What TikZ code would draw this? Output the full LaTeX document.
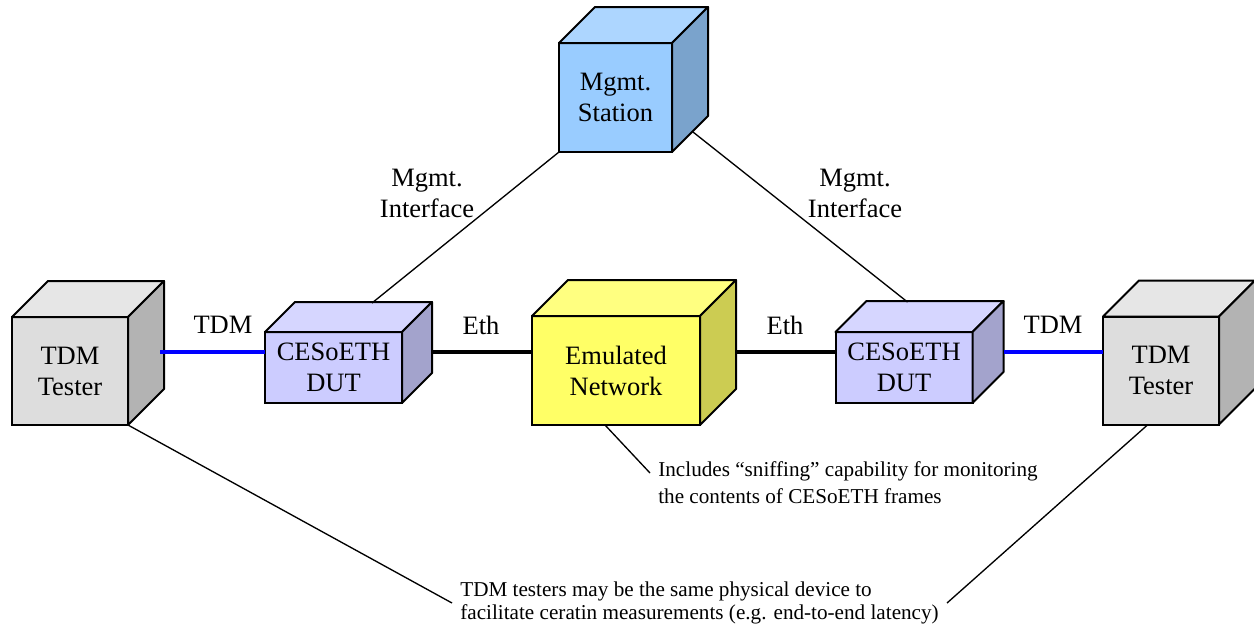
\documentclass[tikz,border=0pt]{standalone}
\usepackage{fontspec}
\setmainfont{Liberation Serif}
\usepackage{tikz}
\usetikzlibrary{calc}
\definecolor{testerfront}{HTML}{DDDDDD}
\definecolor{testertop}{HTML}{E6E6E6}
\definecolor{testerside}{HTML}{B3B3B3}
\definecolor{dutfront}{HTML}{CCCCFF}
\definecolor{duttop}{HTML}{D6D6FF}
\definecolor{dutside}{HTML}{A3A3CC}
\definecolor{stationfront}{HTML}{99CCFF}
\definecolor{stationtop}{HTML}{ADD6FF}
\definecolor{stationside}{HTML}{7AA3CC}
\definecolor{emulfront}{HTML}{FFFF66}
\definecolor{emultop}{HTML}{FFFF80}
\definecolor{emulside}{HTML}{CCCC52}

\begin{document}
\begin{tikzpicture}[x=0.6pt, y=-0.6pt,
                    box/.style={draw, line width=1.2pt, outer sep=0pt, inner sep=0pt, align=center,
                                font=\fontsize{15.9}{18.6}\selectfont},
                    tester/.style={box, fill=testerfront, minimum width=69.6pt, minimum height=64.8pt},
                    dut/.style={box, fill=dutfront, minimum width=82.2pt, minimum height=42.6pt},
                    station/.style={box, fill=stationfront, minimum width=67.8pt, minimum height=65.4pt},
                    emul/.style={box, fill=emulfront, minimum width=100.8pt, minimum height=65.4pt},
                    face/.style={draw, line width=1.2pt, line join=round},
                    tag/.style={align=center, font=\fontsize{15.9}{18.6}\selectfont},
                    note/.style={align=left, inner xsep=4.8pt, inner ysep=0pt,
                                 font=\fontsize{12.7}{13.8}\selectfont},
                    tdmlink/.style={blue, line width=2.4pt},
                    ethlink/.style={black, line width=2.4pt},
                    thin/.style={line width=0.8pt}]
    \useasboundingbox (0,0) rectangle (1254,628);

    \node[tester] (tL) at (70,371) {TDM\\Tester};
    \node[dut] (dL) at (333.5,367.5) {CESoETH\\DUT};
    \node[station] (mg) at (615.5,97.5) {Mgmt.\\Station};
    \node[emul] (em) at (616,370.5) {Emulated\\Network};
    \node[dut] (dR) at (904,367.5) {CESoETH\\DUT};
    \node[tester] (tR) at (1161,370.5) {TDM\\Tester};

    \foreach \n/\d/\t/\s in {tL/36/testertop/testerside, dL/30/duttop/dutside,
                             mg/36/stationtop/stationside, em/36/emultop/emulside,
                             dR/31/duttop/dutside, tR/36/testertop/testerside} {
        \draw[face, fill=\t] (\n.north west) -- ++(\d,-\d) -- ($(\n.north east)+(\d,-\d)$)
                             -- (\n.north east) -- cycle;
        \draw[face, fill=\s] (\n.north east) -- ++(\d,-\d) -- ($(\n.south east)+(\d,-\d)$)
                             -- (\n.south east) -- cycle;
    }

    \coordinate (bus) at (0,352);
    \draw[tdmlink] ($(tL.east |- bus)+(32,0)$) -- (dL.west |- bus);
    \draw[ethlink] ($(dL.east |- bus)+(30,0)$) -- (em.west |- bus);
    \draw[ethlink] ($(em.east |- bus)+(36,0)$) -- (dR.west |- bus);
    \draw[tdmlink] ($(dR.east |- bus)+(31,0)$) -- (tR.west |- bus);

    \draw[thin] ($(dL.north west)+(107,-29)$) -- (mg.south west);
    \draw[thin] ($(mg.south east)+(21,-20)$) -- ($(dR.north west)+(72,-30)$);

    \node[tag] (tdmL) at (223,325) {TDM};
    \node[tag] (ethL) at (481,325) {Eth};
    \node[tag] (ethR) at (785,325) {Eth};
    \node[tag] (tdmR) at (1053,325) {TDM};
    \node[tag] (ifL) at (427,193) {Mgmt.\\Interface};
    \node[tag] (ifR) at (855,193) {Mgmt.\\Interface};

    \node[note, anchor=north west, font=\fontsize{12.7}{16.2}\selectfont] (sniff) at (650,461) {Includes “sniffing” capability for monitoring\\the contents of CESoETH frames};
    \node[note, anchor=west] (tdmnote) at (452,603) {TDM testers may be the same physical device to\\facilitate ceratin measurements (e.g. end-to-end latency)};

    \draw[thin] ($(em.south)+(-11,0)$) -- ($(sniff.north west)+(0,12)$);
    \draw[thin] (tL.south east) -- (tdmnote.west);
    \draw[thin] ($(tR.south)+(-13,0)$) -- (tdmnote.east);
\end{tikzpicture}
\end{document}
